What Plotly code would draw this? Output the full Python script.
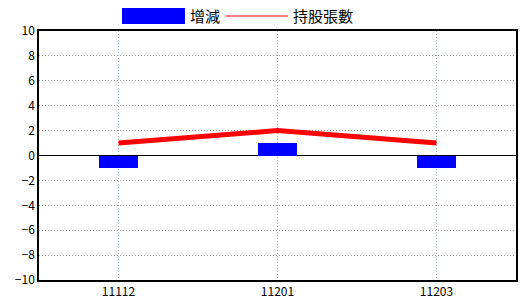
import plotly.graph_objects as go

categories = ["11112", "11201", "11203"]
change = [-1, 1, -1]
holdings = [1, 2, 1]
y_ticks = list(range(-10, 11, 2))

fig = go.Figure()
fig.add_trace(go.Bar(x=categories, y=change, name="增減", marker=dict(color="#0000FF", line=dict(width=0)),
                     width=0.25, showlegend=False))
fig.add_trace(go.Scatter(x=categories, y=holdings, name="持股張數", mode="lines",
                         line=dict(color="#FF0000", width=5), showlegend=False))

# custom legend
fig.add_shape(type="rect", xref="paper", yref="paper", x0=(122-39)/477, x1=(185-39)/477,
              y0=(280-24)/249, y1=(280-8)/249, fillcolor="#0000FF", line=dict(width=0))
fig.add_annotation(text="增減", xref="paper", yref="paper", x=(188-39)/477, y=(280-16)/249,
                   xanchor="left", yanchor="middle", showarrow=False,
                   font=dict(size=15, color="black", family="Noto Sans CJK TC"))
fig.add_shape(type="line", xref="paper", yref="paper", x0=(226-39)/477, x1=(288-39)/477,
              y0=(280-16)/249, y1=(280-16)/249, line=dict(color="#FF0000", width=1))
fig.add_annotation(text="持股張數", xref="paper", yref="paper", x=(291-39)/477, y=(280-16)/249,
                   xanchor="left", yanchor="middle", showarrow=False,
                   font=dict(size=15, color="black", family="Noto Sans CJK TC"))

fig.update_layout(
    width=520, height=300, margin=dict(l=39, r=4, t=31, b=20),
    paper_bgcolor="white", plot_bgcolor="white",
    font=dict(family="Noto Sans CJK TC", size=12, color="black"),
    bargap=0,
)
fig.update_xaxes(type="category", range=[-0.5, 2.5], showgrid=True, gridcolor="#A8BCCC",
                 griddash="1px,2px", gridwidth=1, showline=True, linecolor="black", linewidth=1.5,
                 mirror=True, ticks="", tickfont=dict(size=12), automargin=False)
fig.update_yaxes(range=[-10, 10], tickvals=y_ticks, showgrid=True, gridcolor="#A0A0A0",
                 griddash="1px,2px", gridwidth=1, showline=True, linecolor="black", linewidth=1.5,
                 mirror=True, zeroline=True, zerolinecolor="black", zerolinewidth=1,
                 ticks="", tickfont=dict(size=12), automargin=False)

fig.write_html("out.html")
